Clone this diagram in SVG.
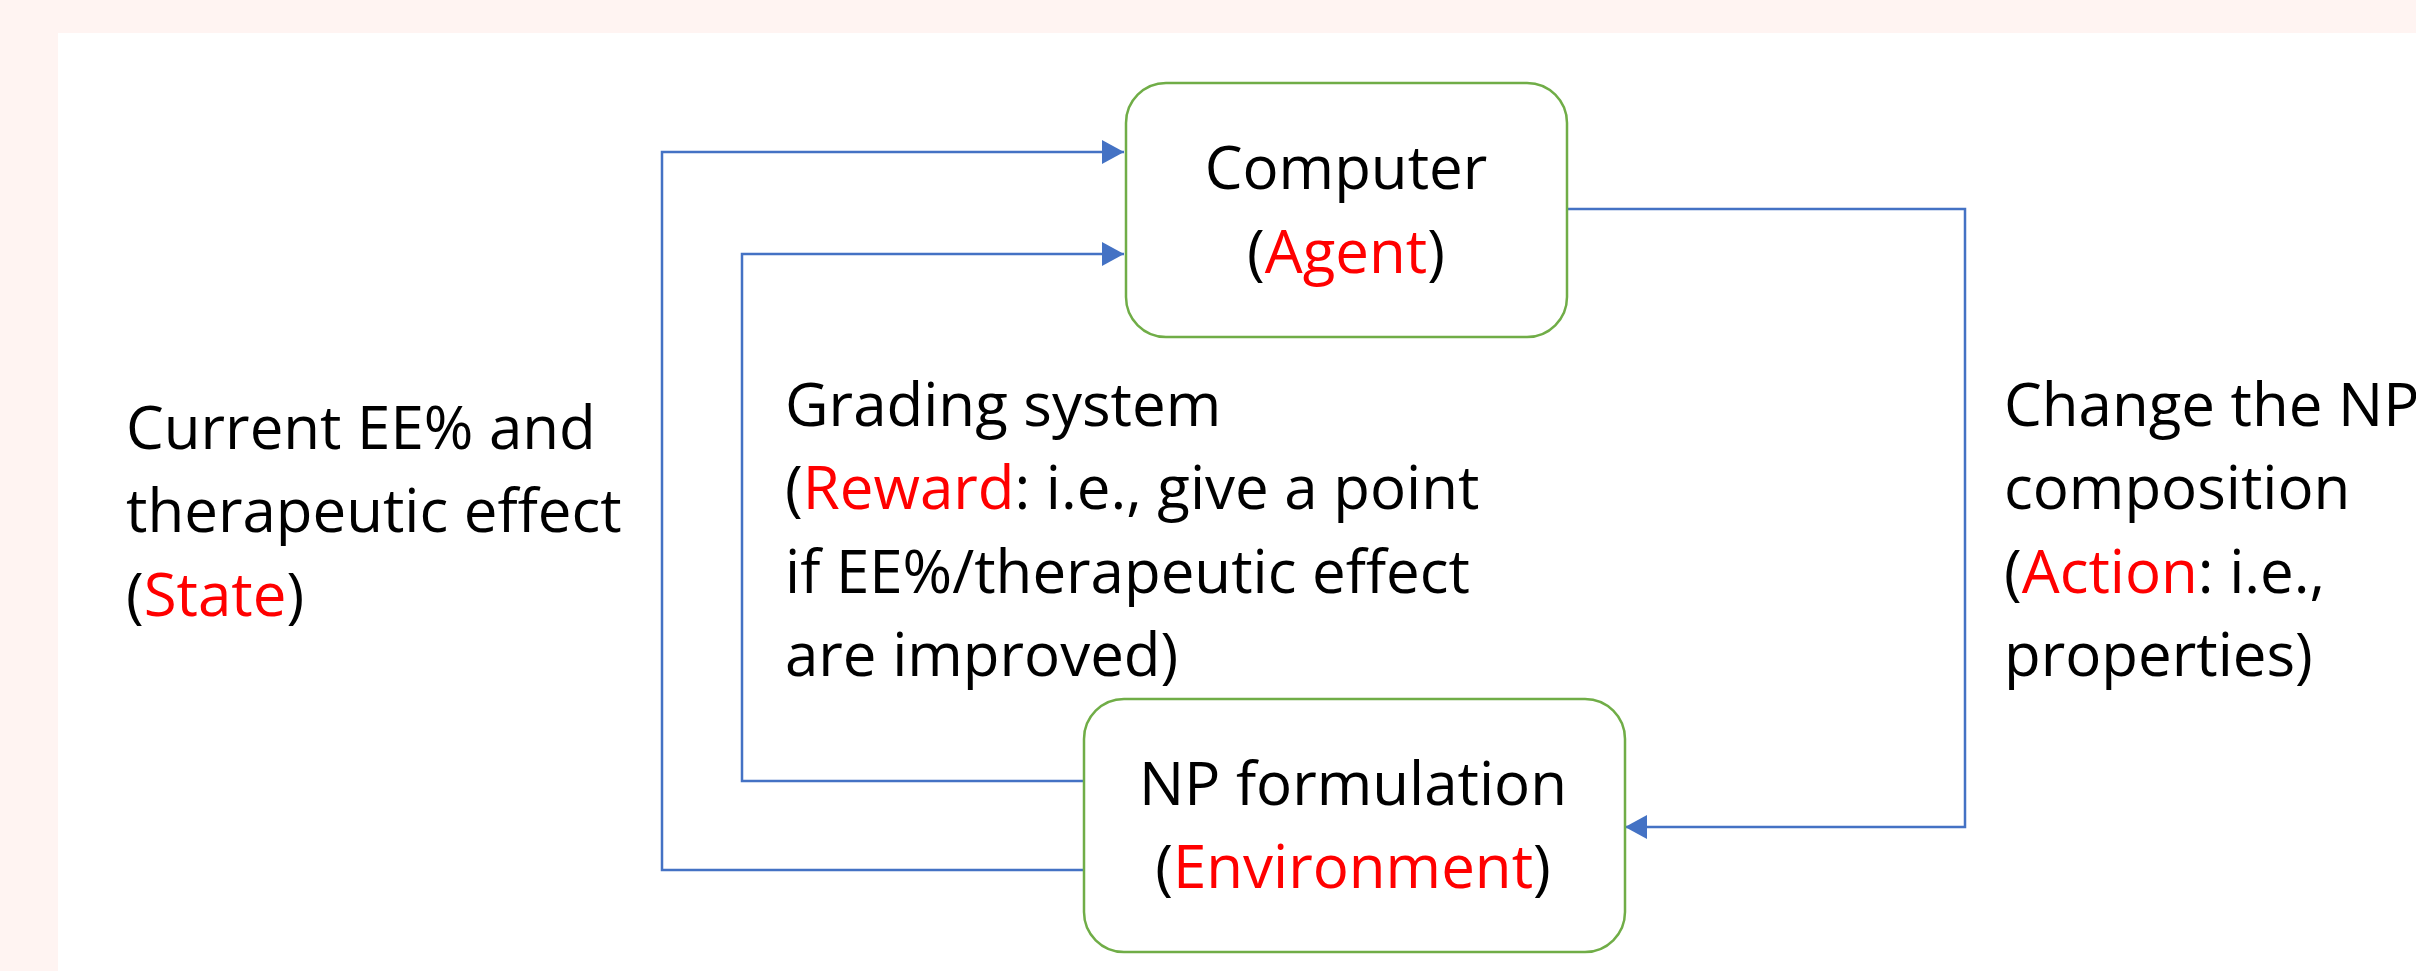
<svg xmlns="http://www.w3.org/2000/svg" width="2416" height="971" viewBox="0 0 2416 971">
  <style>
    .bg-frame { fill: #FFF4F2; }
    .bg-page { fill: #FFFFFF; }
    .node { fill: #FFFFFF; stroke: #70AD47; stroke-width: 2.5; }
    .conn { fill: none; stroke: #4472C4; stroke-width: 2.5; }
    .txt { font-family: "Open Sans", "Noto Sans", "Liberation Sans", sans-serif; font-size: 60px; fill: #000000; }
    .mid { text-anchor: middle; }
    .key { fill: #FF0000; }
  </style>
  <defs>
    <marker id="arrow" markerUnits="userSpaceOnUse" markerWidth="24" markerHeight="26" refX="22" refY="12" orient="auto">
      <path d="M0,0 L22,12 L0,24 Z" fill="#4472C4"/>
    </marker>
  </defs>

  <!-- page background -->
  <rect class="bg-frame" x="0" y="0" width="2416" height="971"/>
  <rect class="bg-page" x="58" y="33" width="2358" height="938"/>

  <!-- connectors -->
  <g id="connectors">
    <!-- state: environment back to agent (outer loop) -->
    <path class="conn" d="M1084,870 H662 V152 H1124" marker-end="url(#arrow)"/>
    <!-- reward: environment back to agent (inner loop) -->
    <path class="conn" d="M1084,781 H742 V254 H1124" marker-end="url(#arrow)"/>
    <!-- action: agent to environment -->
    <path class="conn" d="M1567,209 H1965 V827 H1625" marker-end="url(#arrow)"/>
  </g>

  <!-- agent node -->
  <g id="node-agent">
    <rect class="node" x="1126" y="83" width="441" height="254" rx="40" ry="40"/>
    <text class="txt mid" x="1346" y="189">Computer</text>
    <text class="txt mid" x="1346" y="273">(<tspan class="key">Agent</tspan>)</text>
  </g>

  <!-- environment node -->
  <g id="node-environment">
    <rect class="node" x="1084" y="699" width="541" height="253" rx="40" ry="40"/>
    <text class="txt mid" x="1353" y="805">NP formulation</text>
    <text class="txt mid" x="1353" y="888">(<tspan class="key">Environment</tspan>)</text>
  </g>

  <!-- connector labels -->
  <g id="label-state">
    <text class="txt" x="126" y="449">Current EE% and</text>
    <text class="txt" x="126" y="532">therapeutic effect</text>
    <text class="txt" x="126" y="616">(<tspan class="key">State</tspan>)</text>
  </g>

  <g id="label-reward">
    <text class="txt" x="785" y="426">Grading system</text>
    <text class="txt" x="785" y="509">(<tspan class="key">Reward</tspan>: i.e., give a point</text>
    <text class="txt" x="785" y="593">if EE%/therapeutic effect</text>
    <text class="txt" x="785" y="676">are improved)</text>
  </g>

  <g id="label-action">
    <text class="txt" x="2004" y="426">Change the NP</text>
    <text class="txt" x="2004" y="509">composition</text>
    <text class="txt" x="2004" y="593">(<tspan class="key">Action</tspan>: i.e.,</text>
    <text class="txt" x="2004" y="676">properties)</text>
  </g>
</svg>
